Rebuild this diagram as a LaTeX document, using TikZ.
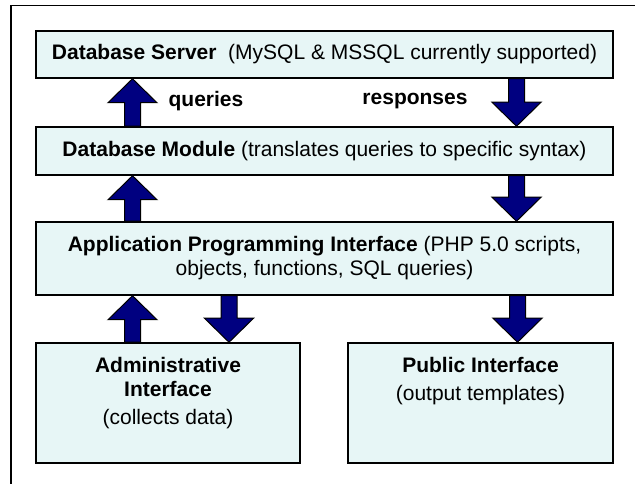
\documentclass[tikz,border=0pt]{standalone}
\usepackage{fontspec}
\setmainfont{Liberation Sans}
\usetikzlibrary{calc}
\definecolor{boxfill}{RGB}{231,246,246}
\definecolor{arrfill}{RGB}{0,0,128}
\tikzset{
  box/.style={draw=black, line width=1.125pt, fill=boxfill, inner sep=0pt, anchor=center},
  txt/.style={align=center, font=\fontsize{15.75pt}{18pt}\selectfont, inner sep=0pt},
  blk/.style={draw=black, line width=0.75pt, fill=arrfill, line join=miter},
  frame/.style={draw=black, line width=1.125pt}
}
% block arrow: #1 = x (px), #2 = start anchor, #3 = end anchor (tip)
\newcommand{\blockarr}[3]{%
  \path[blk] let \p1=(#2), \p2=(#3), \n1={#1*0.75pt}, \n2={sign(\y2-\y1)*18pt} in
   (\n1-6pt,\y1) -- (\n1-6pt,\y2-\n2) -- (\n1-18.4pt,\y2-\n2) -- (\n1,\y2)
   -- (\n1+18.4pt,\y2-\n2) -- (\n1+6pt,\y2-\n2) -- (\n1+6pt,\y1) -- cycle;}
\begin{document}
\begin{tikzpicture}[x=0.75pt,y=-0.75pt]
\useasboundingbox (0,0) rectangle (635,484);
\fill[white] (0,0) rectangle (635,484);
% outer frame (top and left only)
\coordinate (ftl) at (11,5.5);
\coordinate (ftr) at (636,5.5);
\coordinate (fbl) at (11,485);
\draw[frame] (ftr) -- (ftl) -- (fbl);

\node[box, minimum width=577*0.75pt, minimum height=47*0.75pt, txt] (dbs) at (324.5,54.5)
  {\textbf{Database Server}\ \ (MySQL \& MSSQL currently supported)};
\node[box, minimum width=577*0.75pt, minimum height=48*0.75pt, txt] (dbm) at (324.5,151)
  {\textbf{Database Module} (translates queries to specific syntax)};
\node[box, minimum width=577*0.75pt, minimum height=73*0.75pt, txt] (api) at (324.5,258.5)
  {\textbf{Application Programming Interface} (PHP 5.0 scripts,\\objects, functions, SQL queries)};
\node[box, minimum width=264*0.75pt, minimum height=120*0.75pt] (adm) at (168,403) {};
\node[txt] (admt) at (168,393) {\textbf{Administrative}\\\textbf{Interface}\\[3pt](collects data)};
\node[box, minimum width=265*0.75pt, minimum height=120*0.75pt] (pub) at (480.5,403) {};
\node[txt] (pubt) at (480.5,381) {\textbf{Public Interface}\\[3pt](output templates)};

\node[txt, font=\fontsize{15.75pt}{18pt}\selectfont\bfseries] (q) at (206,101) {queries};
\node[txt, font=\fontsize{15.75pt}{18pt}\selectfont\bfseries] (r) at (415,101) {responses};

% arrows
\blockarr{132.5}{dbm.north}{dbs.south}
\blockarr{132.5}{api.north}{dbm.south}
\blockarr{132.5}{adm.north}{api.south}
\blockarr{516.5}{dbs.south}{dbm.north}
\blockarr{516.5}{dbm.south}{api.north}
\blockarr{517.5}{api.south}{pub.north}
\blockarr{229}{api.south}{adm.north}
\end{tikzpicture}
\end{document}
